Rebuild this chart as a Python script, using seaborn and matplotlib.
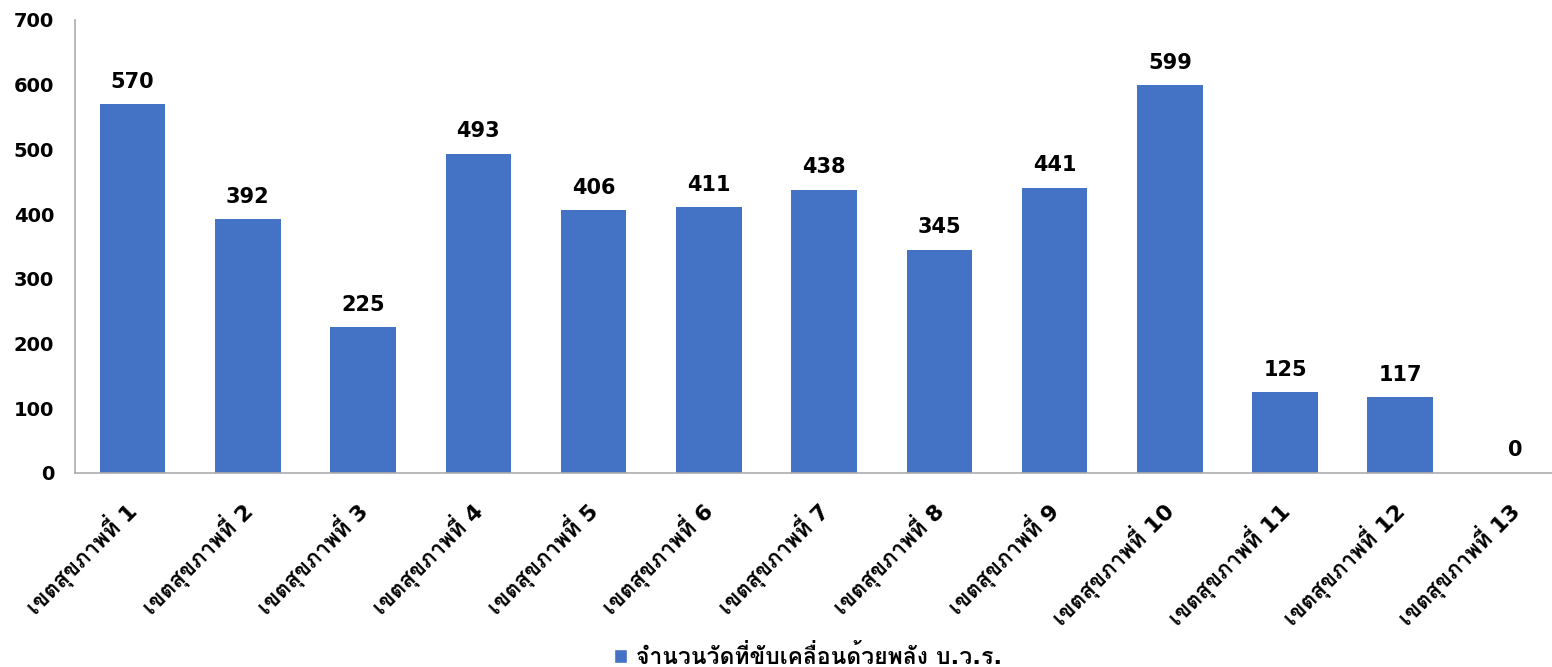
import matplotlib
matplotlib.use("Agg")
import matplotlib.pyplot as plt
from matplotlib.patches import Patch
import seaborn as sns
import pandas as pd

# Temples per health region
regions = [f"เขตสุขภาพที่ {i}" for i in range(1, 14)]
temples = [570, 392, 225, 493, 406, 411, 438, 345, 441, 599, 125, 117, 0]
legend_label = "จำนวนวัดที่ขับเคลื่อนด้วยพลัง บ.ว.ร."
y_ticks = [0, 100, 200, 300, 400, 500, 600, 700]

BAR = "#4472C4"
FONT = ["DejaVu Sans", "Loma"]

sns.set_theme(style="white")
plt.rcParams["font.family"] = FONT
plt.rcParams["font.weight"] = "bold"
plt.rcParams["text.color"] = "black"
plt.rcParams["xtick.color"] = "black"
plt.rcParams["ytick.color"] = "black"

df = pd.DataFrame({"region": regions, "temples": temples})

W, H = 1552, 667
fig = plt.figure(figsize=(W / 100, H / 100), dpi=100)
ax = fig.add_axes([75 / W, 1 - 473 / H, 1477 / W, (473 - 20) / H])

sns.barplot(data=df, x="region", y="temples", color=BAR, saturation=1,
            width=0.57, linewidth=0, ax=ax)

ax.set_xlim(-0.5, 12.316)
ax.set_ylim(0, 700)
ax.set_yticks(y_ticks)
ax.set_yticklabels([str(t) for t in y_ticks], fontsize=14, fontweight="bold",
                   color="black")
ax.set_xlabel("")
ax.set_ylabel("")

ax.set_xticks(range(len(regions)))
ax.set_xticklabels(regions, rotation=45, ha="right", va="center",
                   rotation_mode="anchor", fontsize=16, fontweight="bold",
                   color="black", family=FONT)
ax.tick_params(axis="x", length=0, pad=24)
ax.tick_params(axis="y", length=0, pad=15)

for side in ["top", "right"]:
    ax.spines[side].set_visible(False)
for side in ["left", "bottom"]:
    ax.spines[side].set_color("#ADADAD")
    ax.spines[side].set_linewidth(1.2)

ax.bar_label(ax.containers[0], labels=[str(v) for v in temples], padding=9,
             fontsize=15, fontweight="bold", color="black")

fig.legend(handles=[Patch(facecolor=BAR)], labels=[legend_label],
           loc="center", bbox_to_anchor=(808 / W, 1 - 657 / H), frameon=False,
           handlelength=0.55, handleheight=0.55, handletextpad=0.4,
           prop={"family": FONT, "weight": "bold", "size": 16.5})

fig.savefig("out.png", dpi=100)
